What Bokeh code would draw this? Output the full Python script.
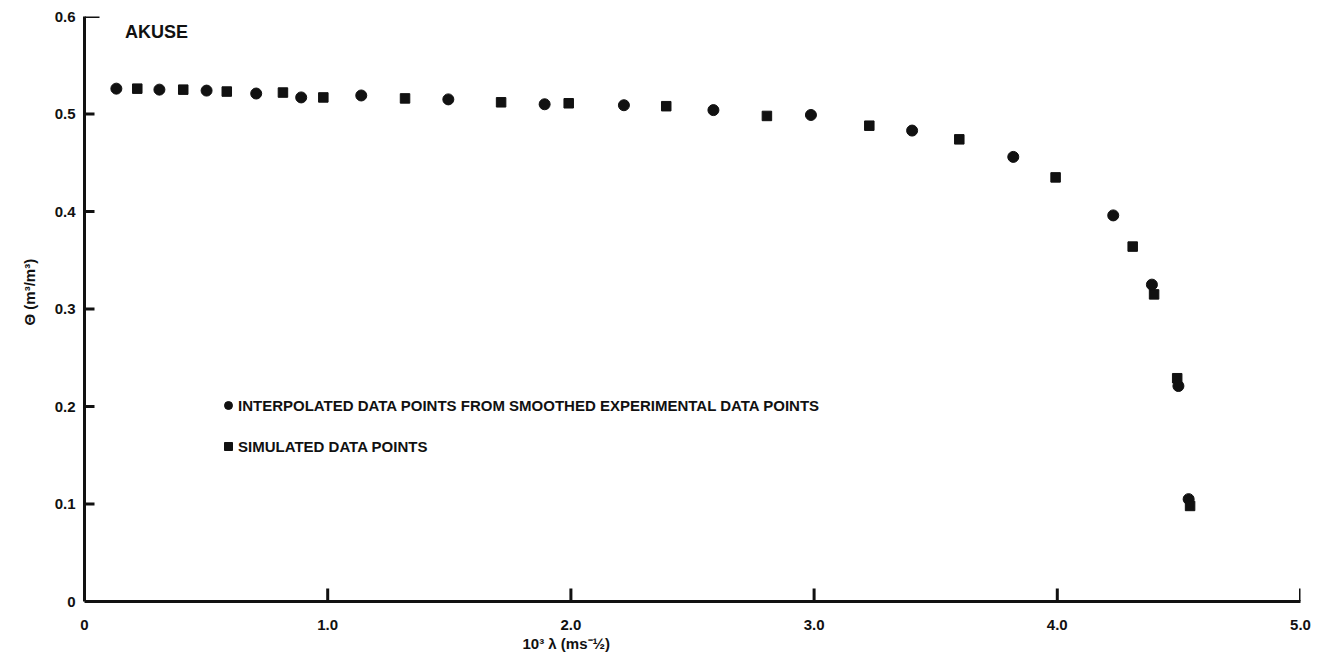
from bokeh.plotting import figure
from bokeh.models import Range1d, FixedTicker, Legend, LegendItem, Label, Title
from bokeh.embed import file_html
from bokeh.resources import INLINE

# Interpolated data points (circles)
interp_x = [0.131, 0.308, 0.502, 0.706, 0.891, 1.138, 1.496, 1.892, 2.218, 2.586,
            2.987, 3.403, 3.819, 4.230, 4.389, 4.498, 4.540]
interp_y = [0.526, 0.525, 0.524, 0.521, 0.517, 0.519, 0.515, 0.510, 0.509, 0.504,
            0.499, 0.483, 0.456, 0.396, 0.325, 0.221, 0.105]

# Simulated data points (squares)
sim_x = [0.217, 0.406, 0.585, 0.816, 0.982, 1.318, 1.713, 1.991, 2.392, 2.806,
         3.227, 3.597, 3.993, 4.310, 4.398, 4.493, 4.546]
sim_y = [0.526, 0.525, 0.523, 0.522, 0.517, 0.516, 0.512, 0.511, 0.508, 0.498,
         0.488, 0.474, 0.435, 0.364, 0.315, 0.229, 0.098]

x_ticks = [0, 1, 2, 3, 4, 5]
x_tick_labels = ["0", "1.0", "2.0", "3.0", "4.0", "5.0"]
y_ticks = [0, 0.1, 0.2, 0.3, 0.4, 0.5, 0.6]
y_tick_labels = ["0", "0.1", "0.2", "0.3", "0.4", "0.5", "0.6"]

series_names = ["INTERPOLATED DATA POINTS FROM SMOOTHED EXPERIMENTAL DATA POINTS",
                "SIMULATED DATA POINTS"]
site_name = "AKUSE"
x_title = "10³ λ (ms⁻½)"
y_title = "Θ (m³/m³)"

FONT = "Liberation Sans"
INK = "#111111"

X0, X1, Y0, Y1 = 0, 5, 0, 0.6
W, H = 1327, 658
BL, BR, BT, BB = 84, 27, 16, 57
px_x = (X1 - X0) / (W - BL - BR)   # data units per pixel, x
px_y = (Y1 - Y0) / (H - BT - BB)   # data units per pixel, y

p = figure(width=W, height=H, output_backend="svg", toolbar_location=None,
           x_range=Range1d(X0, X1), y_range=Range1d(Y0, Y1),
           min_border_left=BL, min_border_right=BR, min_border_top=BT,
           min_border_bottom=BB)
p.outline_line_color = None
p.xgrid.visible = False
p.ygrid.visible = False
p.background_fill_color = "white"
p.border_fill_color = "white"

# inward tick marks
p.segment(x0=x_ticks[1:], y0=[Y0] * (len(x_ticks) - 1),
          x1=x_ticks[1:], y1=[Y0 + 13 * px_y] * (len(x_ticks) - 1),
          line_width=3, line_color=INK)
p.segment(x0=[X0] * (len(y_ticks) - 1), y0=y_ticks[1:],
          x1=[X0 + 10 * px_x] * (len(y_ticks) - 2) + [X0 + 15 * px_x], y1=y_ticks[1:],
          line_width=3, line_color=INK)

r1 = p.scatter(interp_x, interp_y, marker="circle", size=11, color=INK)
r2 = p.scatter(sim_x, sim_y, marker="square", size=9.5, color=INK)

for ax in (p.xaxis[0], p.yaxis[0]):
    ax.axis_line_width = 3
    ax.axis_line_color = INK
    ax.major_tick_line_color = None
    ax.minor_tick_line_color = None
    ax.major_tick_out = 0
    ax.major_tick_in = 0
    ax.major_label_text_font = FONT
    ax.major_label_text_font_style = "bold"
    ax.major_label_text_font_size = "15px"
    ax.major_label_text_color = INK

p.xaxis[0].ticker = FixedTicker(ticks=x_ticks)
p.xaxis[0].major_label_overrides = {t: s for t, s in zip(x_ticks, x_tick_labels)}
p.xaxis[0].major_label_standoff = 18

p.yaxis[0].ticker = FixedTicker(ticks=y_ticks)
p.yaxis[0].major_label_overrides = {t: s for t, s in zip(y_ticks, y_tick_labels)}
p.yaxis[0].major_label_standoff = 9

# axis titles, placed off-centre as in the original
p.add_layout(Title(text=x_title, align="left", offset=438, standoff=0,
                   text_font=FONT, text_font_style="bold", text_font_size="15px",
                   text_color=INK), "below")
p.add_layout(Title(text=y_title, align="left", offset=276, standoff=27,
                   text_font=FONT, text_font_style="bold", text_font_size="15px",
                   text_color=INK), "left")

legend = Legend(items=[LegendItem(label=series_names[0], renderers=[r1]),
                       LegendItem(label=series_names[1], renderers=[r2])],
                location=(134, 145), orientation="vertical",
                border_line_alpha=0, background_fill_alpha=0,
                padding=0, margin=0, spacing=21,
                glyph_width=20, glyph_height=20, label_height=20,
                label_standoff=0,
                label_text_font=FONT, label_text_font_style="bold",
                label_text_font_size="15px", label_text_color=INK)
p.add_layout(legend)

p.add_layout(Label(x=0.167, y=0.584, text=site_name, text_font=FONT,
                   text_font_style="bold", text_font_size="18px",
                   text_color=INK, text_baseline="middle"))

open("out.html", "w").write(file_html(p, INLINE))
